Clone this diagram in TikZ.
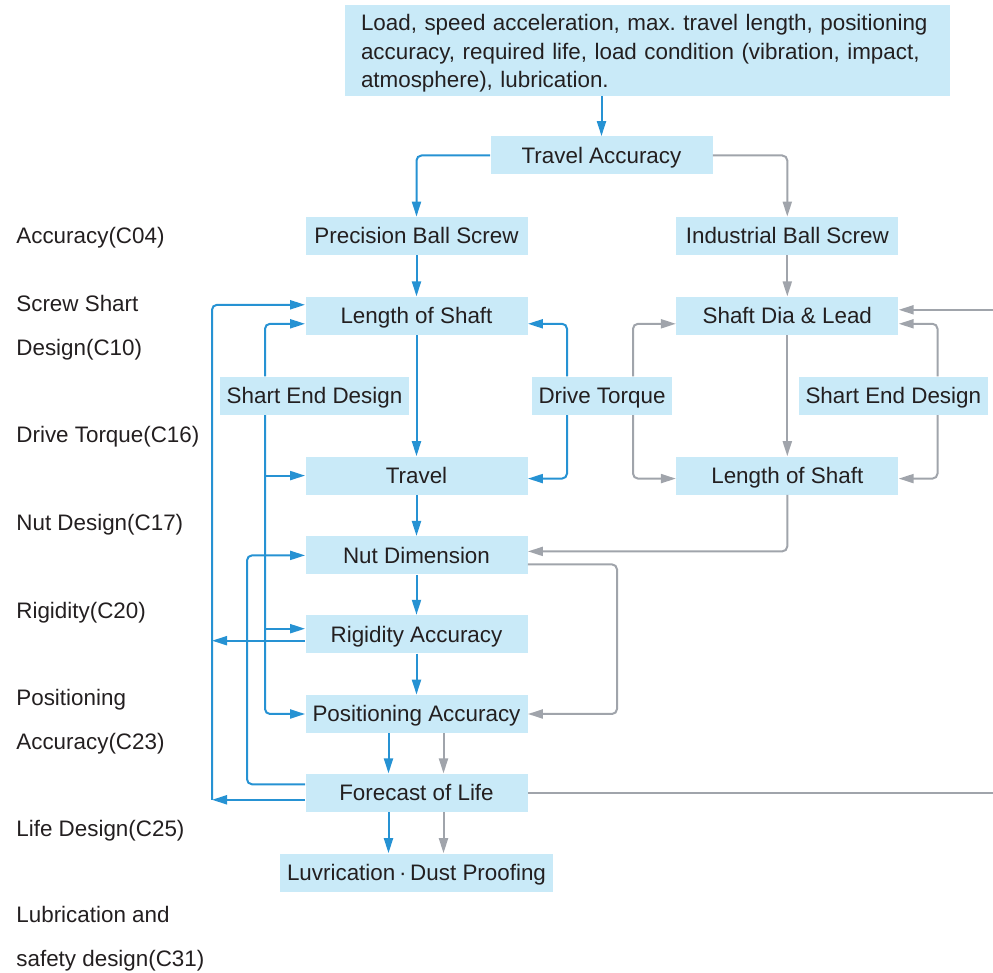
\documentclass[tikz,border=0pt]{standalone}
\usepackage{fontspec}
\setmainfont{Liberation Sans}
\usepackage{xcolor}
\definecolor{BoxColor}{RGB}{201,234,248}
\definecolor{FlowBlue}{RGB}{38,146,211}
\definecolor{FlowGray}{RGB}{160,164,171}
\definecolor{TextColor}{RGB}{35,31,32}
\usetikzlibrary{positioning, arrows.meta, calc}
\frenchspacing

\begin{document}
\begin{tikzpicture}[
    every node/.style={font=\fontsize{11.2}{14.25}\selectfont, text=TextColor},
    panel/.style={rectangle, fill=BoxColor, inner xsep=3.5pt, inner ysep=0pt, minimum height=19pt, align=center},
    box/.style={panel, text height=8pt, text depth=0pt},
    main/.style={box, minimum width=111pt},
    sidenote/.style={anchor=base west, align=left, inner sep=0pt, font=\fontsize{11.2}{22}\selectfont},
    barrow/.style={-{Triangle[length=7.5pt, width=4.5pt]}, line width=1pt, FlowBlue, rounded corners=2.5pt},
    garrow/.style={barrow, FlowGray},
    gline/.style={line width=1pt, FlowGray},
]
\useasboundingbox (0,0) rectangle (496.5pt,-486.5pt);

% Requirements
\node[panel, text width=286.5pt, align=left, inner xsep=8pt, minimum height=45.5pt] (req) at (323.75pt,-25.25pt) {\rule{0pt}{11pt}Load, speed acceleration, max. travel length, positioning\\
    accuracy, required life, load condition (vibration, impact,\\
    atmosphere), lubrication.};

% Main flow
\node[main] (trav) at (300.75pt,-77.75pt) {Travel Accuracy};
\node[main] (prec) at (208.25pt,-118pt) {Precision Ball Screw};
\node[main, right=74pt of prec] (ind) {Industrial Ball Screw};
\node[main, below=20.5pt of prec] (losL) {Length of Shaft};
\node[main, below=60.5pt of losL] (trvL) {Travel};
\node[main, below=20.5pt of trvL] (nut) {Nut Dimension};
\node[main, below=20pt of nut] (rig) {Rigidity Accuracy};
\node[main, below=20.5pt of rig] (pos) {Positioning Accuracy};
\node[main, below=20pt of pos] (fore) {Forecast of Life};
\node[box, below=20.5pt of fore] (luv) {Luvrication\,·\,Dust Proofing};
\node[main, below=20.5pt of ind] (dia) {Shaft Dia \& Lead};
\node[main, below=60.5pt of dia] (losR) {Length of Shaft};

% Design steps between the rows
\node[box, xshift=-51pt] (endL) at ($(losL.south)!.5!(trvL.north)$) {Shart End Design};
\node[box, xshift=92.75pt] (drv) at ($(losL.south)!.5!(trvL.north)$) {Drive Torque};
\node[box, xshift=53pt] (endR) at ($(dia.south)!.5!(losR.north)$) {Shart End Design};

% Chapter notes (base = last line)
\node[sidenote] (n04) at (8pt,-122pt) {Accuracy(C04)};
\node[sidenote] (n10) at (8pt,-178pt) {Screw Shart\\Design(C10)};
\node[sidenote] (n16) at (8pt,-221.5pt) {Drive Torque(C16)};
\node[sidenote] (n17) at (8pt,-265.5pt) {Nut Design(C17)};
\node[sidenote] (n20) at (8pt,-309.5pt) {Rigidity(C20)};
\node[sidenote] (n23) at (8pt,-375pt) {Positioning\\Accuracy(C23)};
\node[sidenote] (n25) at (8pt,-418.5pt) {Life Design(C25)};
\node[sidenote] (n31) at (8pt,-483.5pt) {Lubrication and\\safety design(C31)};

% Line columns
\coordinate (outerx) at (106pt,0);
\coordinate (lifex) at (123.5pt,0);
\coordinate (shartx) at (132.5pt,0);
\coordinate (drvbx) at (283.5pt,0);
\coordinate (loopx) at (308.5pt,0);
\coordinate (drvgx) at (316.5pt,0);
\coordinate (shartrx) at (468.75pt,0);
\coordinate (edgex) at (496.5pt,0);

% Feed and split
\draw[barrow] (req.south -| trav.north) -- (trav.north);
\draw[barrow] (trav.west) -| (prec.north);
\draw[garrow] (trav.east) -| (ind.north);

% Precision column
\foreach \a/\b in {prec/losL, losL/trvL, trvL/nut, nut/rig, rig/pos} {
    \draw[barrow] (\a) -- (\b);
}
\foreach \dx/\col in {-14pt/barrow, 13.5pt/garrow} {
    \draw[\col] ([xshift=\dx]pos.south) -- ([xshift=\dx]fore.north);
    \draw[\col] ([xshift=\dx]fore.south) -- ([xshift=\dx]luv.north);
}

% Industrial column
\draw[garrow] (ind) -- (dia);
\draw[garrow] (dia) -- (losR);

% Feedback loops, left
\draw[barrow] ([yshift=-3.25pt]rig.west) -- ([yshift=-3.25pt]rig.west -| outerx);
\draw[barrow] ([yshift=-3.5pt]fore.west) -- ([yshift=-3.5pt]fore.west -| outerx);
\draw[barrow] ([yshift=-3.5pt]fore.west -| outerx) |- ([yshift=5.5pt]losL.west);
\draw[barrow] ([yshift=4.25pt]fore.west) -- ([yshift=4.25pt]fore.west -| lifex) |- (nut.west);

% Shart end design, left
\draw[barrow] (endL.north -| shartx) |- ([yshift=-4pt]losL.west);
\draw[barrow] (endL.south -| shartx) |- (pos.west);
\draw[barrow] (trvL.west -| shartx) -- (trvL.west);
\draw[barrow] ([yshift=2.75pt]rig.west -| shartx) -- ([yshift=2.75pt]rig.west);

% Drive torque
\draw[barrow] (drv.north -| drvbx) |- ([yshift=-4pt]losL.east);
\draw[barrow] (drv.south -| drvbx) |- ([yshift=-1.5pt]trvL.east);
\draw[garrow] (drv.north -| drvgx) |- ([yshift=-4pt]dia.west);
\draw[garrow] (drv.south -| drvgx) |- ([yshift=-1.5pt]losR.west);

% Shart end design, right
\draw[garrow] (endR.north -| shartrx) |- ([yshift=-4pt]dia.east);
\draw[garrow] (endR.south -| shartrx) |- ([yshift=-1.5pt]losR.east);

% Gray links
\draw[garrow] ([yshift=3pt]dia.east -| edgex) -- ([yshift=3pt]dia.east);
\draw[gline] (fore.east) -- (fore.east -| edgex);
\draw[garrow] (losR.south) |- ([yshift=2pt]nut.east);
\draw[garrow] ([yshift=-4.5pt]nut.east) -- ([yshift=-4.5pt]nut.east -| loopx) |- (pos.east);

\end{tikzpicture}
\end{document}
